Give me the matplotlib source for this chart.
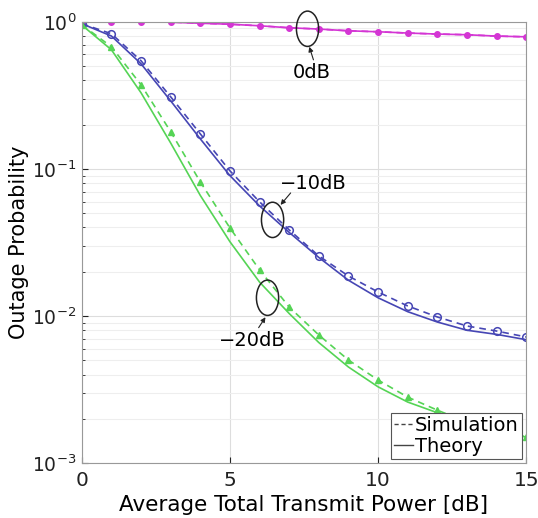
import numpy as np
import matplotlib
matplotlib.use('Agg')
import matplotlib.pyplot as plt
from matplotlib.patches import Ellipse
from matplotlib.lines import Line2D

# potencia media total [dB]
power_db = np.arange(0, 16)

# 0dB
sim_0 = [1.0, 1.0, 1.0, 0.995, 0.977, 0.962, 0.939, 0.91, 0.892, 0.868,
         0.855, 0.838, 0.825, 0.816, 0.799, 0.79]
th_0 = [1.0, 1.0, 0.999, 0.993, 0.977, 0.962, 0.939, 0.91, 0.892, 0.868,
        0.855, 0.838, 0.825, 0.816, 0.799, 0.79]

# -10dB
sim_10 = [0.97, 0.829, 0.543, 0.309, 0.173, 0.097, 0.0597, 0.0385, 0.0256, 0.0187,
          0.01456, 0.0117, 0.00985, 0.00855, 0.0079, 0.0072]
th_10 = [0.97, 0.80, 0.518, 0.29, 0.16, 0.09, 0.056, 0.037, 0.025, 0.0175,
         0.0133, 0.0107, 0.0091, 0.008, 0.0075, 0.0069]

# -20dB
sim_20 = [0.954, 0.676, 0.373, 0.179, 0.0816, 0.0397, 0.0206, 0.0115, 0.00743, 0.00502,
          0.00367, 0.00281, 0.00229, 0.0019, 0.0017, 0.0015]
th_20 = [0.95, 0.645, 0.329, 0.15, 0.066, 0.032, 0.017, 0.0104, 0.0066, 0.0045,
         0.0033, 0.0026, 0.0022, 0.0019, 0.0017, 0.0015]

cor_0 = '#d435d4'
cor_10 = '#4646b4'
cor_20 = '#55d455'

# anotacoes: texto, posicao do texto, centro da elipse, ponta e cauda da seta (dados)
rotulos = [('0dB', (7.75, 0.45), (7.62, 0.896), (7.68, 0.676), (7.82, 0.551)),
           ('\u221210dB', (7.8, 0.08), (6.44, 0.045), (6.71, 0.0569), (7.05, 0.0686)),
           ('\u221220dB', (5.75, 0.0068), (6.27, 0.0133), (6.2, 0.00981), (5.97, 0.00833))]

fig = plt.figure(figsize=(5.38, 5.18), dpi=100)
ax = fig.add_axes([0.152, 0.106, 0.826, 0.852])

ax.plot(power_db, th_0, '-', color=cor_0, lw=1.2)
ax.plot(power_db, sim_0, '--', color=cor_0, lw=1.2, marker='o', ms=4, dashes=(4, 3))
ax.plot(power_db, th_10, '-', color=cor_10, lw=1.2)
ax.plot(power_db, sim_10, '--', color=cor_10, lw=1.2, marker='o', ms=5.5,
        mfc='none', mew=1.1, dashes=(4, 3))
ax.plot(power_db, th_20, '-', color=cor_20, lw=1.2)
ax.plot(power_db, sim_20, '--', color=cor_20, lw=1.2, marker='^', ms=5, dashes=(4, 3))

ax.set_yscale('log')
ax.set_xlim(0, 15)
ax.set_ylim(1e-3, 1)
ax.set_xticks([0, 5, 10, 15])
ax.tick_params(which='both', direction='in', colors='#222222')
ax.tick_params(axis='x', labelsize=14.5, pad=6)
ax.tick_params(axis='y', labelsize=13.5, pad=4)
ax.tick_params(which='major', length=4)
ax.tick_params(which='minor', length=2)
for s in ax.spines.values():
    s.set_color('#999999')
ax.grid(True, which='major', color='#dddddd', lw=0.8)
ax.grid(True, which='minor', axis='y', color='#eeeeee', lw=0.8)

ax.set_xlabel('Average Total Transmit Power [dB]', fontsize=15.5, labelpad=3)
ax.set_ylabel('Outage Probability', fontsize=15)
ax.yaxis.set_label_coords(-0.118, 0.5)

fig.canvas.draw()
to_ax = ax.transData + ax.transAxes.inverted()
for texto, pos, centro, ponta, cauda in rotulos:
    cx, cy = to_ax.transform(centro)
    ax.add_patch(Ellipse((cx, cy), 0.05, 0.08, transform=ax.transAxes,
                         fill=False, ec='#222222', lw=1.1, clip_on=False, zorder=5))
    ax.text(pos[0], pos[1], texto, fontsize=14, ha='center', va='center', zorder=6)
    ax.annotate('', xy=ponta, xytext=cauda, zorder=6,
                arrowprops=dict(arrowstyle='-|>', color='#222222', lw=0.8,
                                shrinkA=0, shrinkB=0, mutation_scale=7))

alcas = [Line2D([], [], color='#444444', ls='--', lw=1, dashes=(3, 2)),
         Line2D([], [], color='#444444', ls='-', lw=1)]
leg = ax.legend(alcas, ['Simulation', 'Theory'], loc='lower right', fontsize=14,
                handlelength=1.0, handletextpad=0.1, borderpad=0.15,
                labelspacing=0.1, fancybox=False, framealpha=1,
                bbox_to_anchor=(0.99, 0.01), borderaxespad=0)
leg.get_frame().set_edgecolor('#555555')
leg.get_frame().set_linewidth(0.8)

fig.savefig('out.png', dpi=100)
